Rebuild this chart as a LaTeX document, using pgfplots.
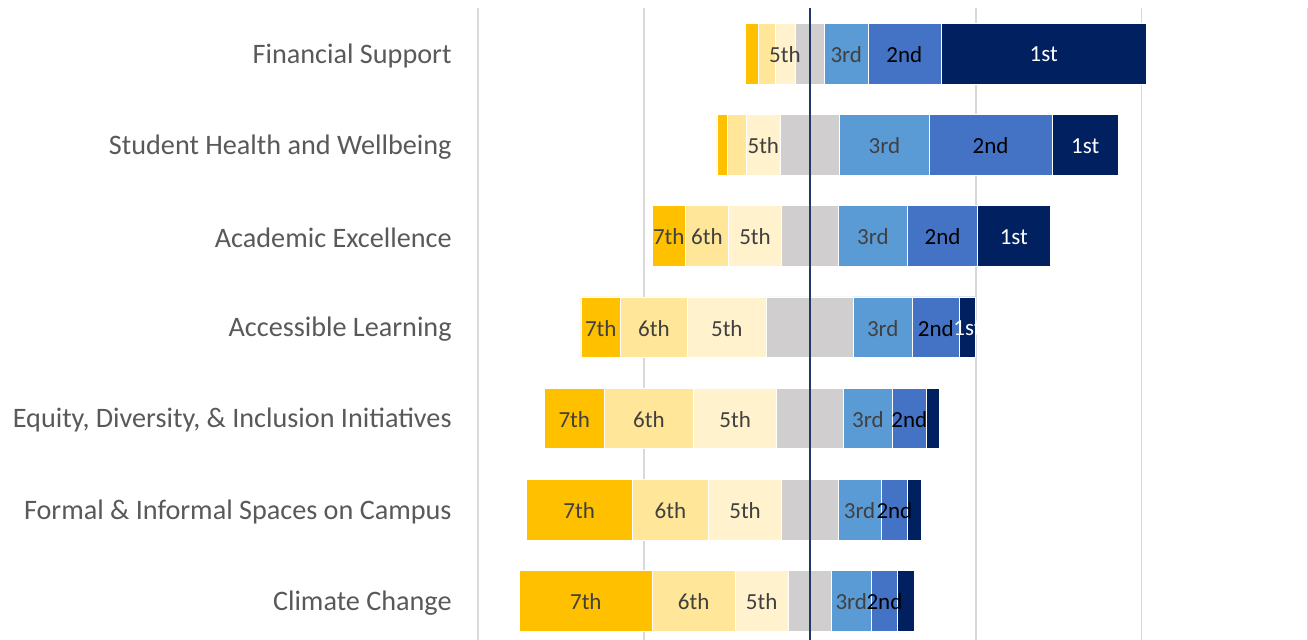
\documentclass[border=0pt]{standalone}
\usepackage{fontspec}
\setmainfont{Carlito}
\usepackage{pgfplots}
\usepackage{pgfplotstable}
\pgfplotsset{compat=1.18}
\definecolor{r7}{HTML}{FFC000}
\definecolor{r6}{HTML}{FFE699}
\definecolor{r5}{HTML}{FFF2CC}
\definecolor{r4}{HTML}{D0CECE}
\definecolor{r3}{HTML}{5B9BD5}
\definecolor{r2}{HTML}{4472C4}
\definecolor{r1}{HTML}{002060}
\definecolor{navyline}{HTML}{1F3864}
\definecolor{labgray}{HTML}{595959}
\definecolor{dgray}{HTML}{404040}
\definecolor{gridgray}{HTML}{D9D9D9}

% counts of respondents per rank (7th ... 1st); L* = segment is labelled
\pgfplotstableread{
y c7 c6 c5 c4 c3 c2 c1 L7 L6 L5 L3 L2 L1
1 4 5 6 9 13 22 62 0 0 1 1 1 1
2 3 6 10 18 27 37 20 0 0 1 1 1 1
3 10 13 16 17 21 21 22 1 1 1 1 1 1
4 12 20 24 26 18 14 5 1 1 1 1 1 1
5 18 27 25 20 15 10 4 1 1 1 1 1 0
6 32 23 22 17 13 8 4 1 1 1 1 1 0
7 40 25 16 13 12 8 5 1 1 1 1 1 0
}\data
% the centre of the 4th-rank segment sits at x = 100
\pgfplotstablecreatecol[create col/expr={100-(\thisrow{c7}+\thisrow{c6}+\thisrow{c5}+0.5*\thisrow{c4})}]{off}\data
\pgfplotstablecreatecol[create col/expr={\thisrow{off}+0.5*\thisrow{c7}}]{m7}\data
\pgfplotstablecreatecol[create col/expr={\thisrow{off}+\thisrow{c7}+0.5*\thisrow{c6}}]{m6}\data
\pgfplotstablecreatecol[create col/expr={\thisrow{off}+\thisrow{c7}+\thisrow{c6}+0.5*\thisrow{c5}}]{m5}\data
\pgfplotstablecreatecol[create col/expr={100+0.5*\thisrow{c4}+0.5*\thisrow{c3}}]{m3}\data
\pgfplotstablecreatecol[create col/expr={100+0.5*\thisrow{c4}+\thisrow{c3}+0.5*\thisrow{c2}}]{m2}\data
\pgfplotstablecreatecol[create col/expr={100+0.5*\thisrow{c4}+\thisrow{c3}+\thisrow{c2}+0.5*\thisrow{c1}}]{m1}\data

\newcommand\barfont{\fontsize{11.5pt}{13pt}\selectfont}

\pgfplotsset{
  common/.style={
    at={(239pt,316pt)}, anchor=north west,
    scale only axis, width=414.75pt, height=319.2pt,
    xmin=0, xmax=250, ymin=0.5, ymax=7.5, y dir=reverse,
    axis line style={draw=none}, tick style={draw=none},
  },
  seg/.style={fill=#1, draw=white, line width=0.3pt},
  lab/.style={draw=none, mark=none, nodes near coords={#1},
    every node near coord/.append style={anchor=center, font=\barfont, inner sep=0pt, yshift=-0.5pt}},
}

\begin{document}
\begin{tikzpicture}
\useasboundingbox (0,0) rectangle (654pt,320pt);
\begin{axis}[common,
  xbar stacked, bar width=30.25pt,
  xtick={0,50,...,250}, xticklabels={},
  xmajorgrids, grid style={color=gridgray, line width=0.8pt},
  ytick={1,...,7},
  yticklabels={Financial Support, Student Health and Wellbeing, Academic Excellence, Accessible Learning, {Equity, Diversity, \& Inclusion Initiatives}, {Formal \& Informal Spaces on Campus}, Climate Change},
  yticklabel style={anchor=east, inner sep=0pt, xshift=-13pt, yshift=-1pt, text=labgray, font=\fontsize{14.1pt}{17pt}\selectfont},
]
\addplot[draw=none, fill=none] table[x=off, y=y]{\data};
\addplot[seg=r7] table[x=c7, y=y]{\data};
\addplot[seg=r6] table[x=c6, y=y]{\data};
\addplot[seg=r5] table[x=c5, y=y]{\data};
\addplot[seg=r4] table[x=c4, y=y]{\data};
\addplot[seg=r3] table[x=c3, y=y]{\data};
\addplot[seg=r2] table[x=c2, y=y]{\data};
\addplot[seg=r1] table[x=c1, y=y]{\data};
\end{axis}
\begin{axis}[common, xtick=\empty, ytick=\empty]
\addplot[navyline, line width=1.1pt] coordinates {(100,0.5) (100,7.5)};
\addplot[lab={7th}, every node near coord/.append style={text=dgray}, restrict expr to domain={\thisrow{L7}}{0.5:1.5}] table[x=m7, y=y]{\data};
\addplot[lab={6th}, every node near coord/.append style={text=dgray}, restrict expr to domain={\thisrow{L6}}{0.5:1.5}] table[x=m6, y=y]{\data};
\addplot[lab={5th}, every node near coord/.append style={text=dgray}, restrict expr to domain={\thisrow{L5}}{0.5:1.5}] table[x=m5, y=y]{\data};
\addplot[lab={3rd}, every node near coord/.append style={text=dgray}, restrict expr to domain={\thisrow{L3}}{0.5:1.5}] table[x=m3, y=y]{\data};
\addplot[lab={2nd}, every node near coord/.append style={text=black}, restrict expr to domain={\thisrow{L2}}{0.5:1.5}] table[x=m2, y=y]{\data};
\addplot[lab={1st}, every node near coord/.append style={text=white}, restrict expr to domain={\thisrow{L1}}{0.5:1.5}] table[x=m1, y=y]{\data};
\end{axis}
\end{tikzpicture}
\end{document}
